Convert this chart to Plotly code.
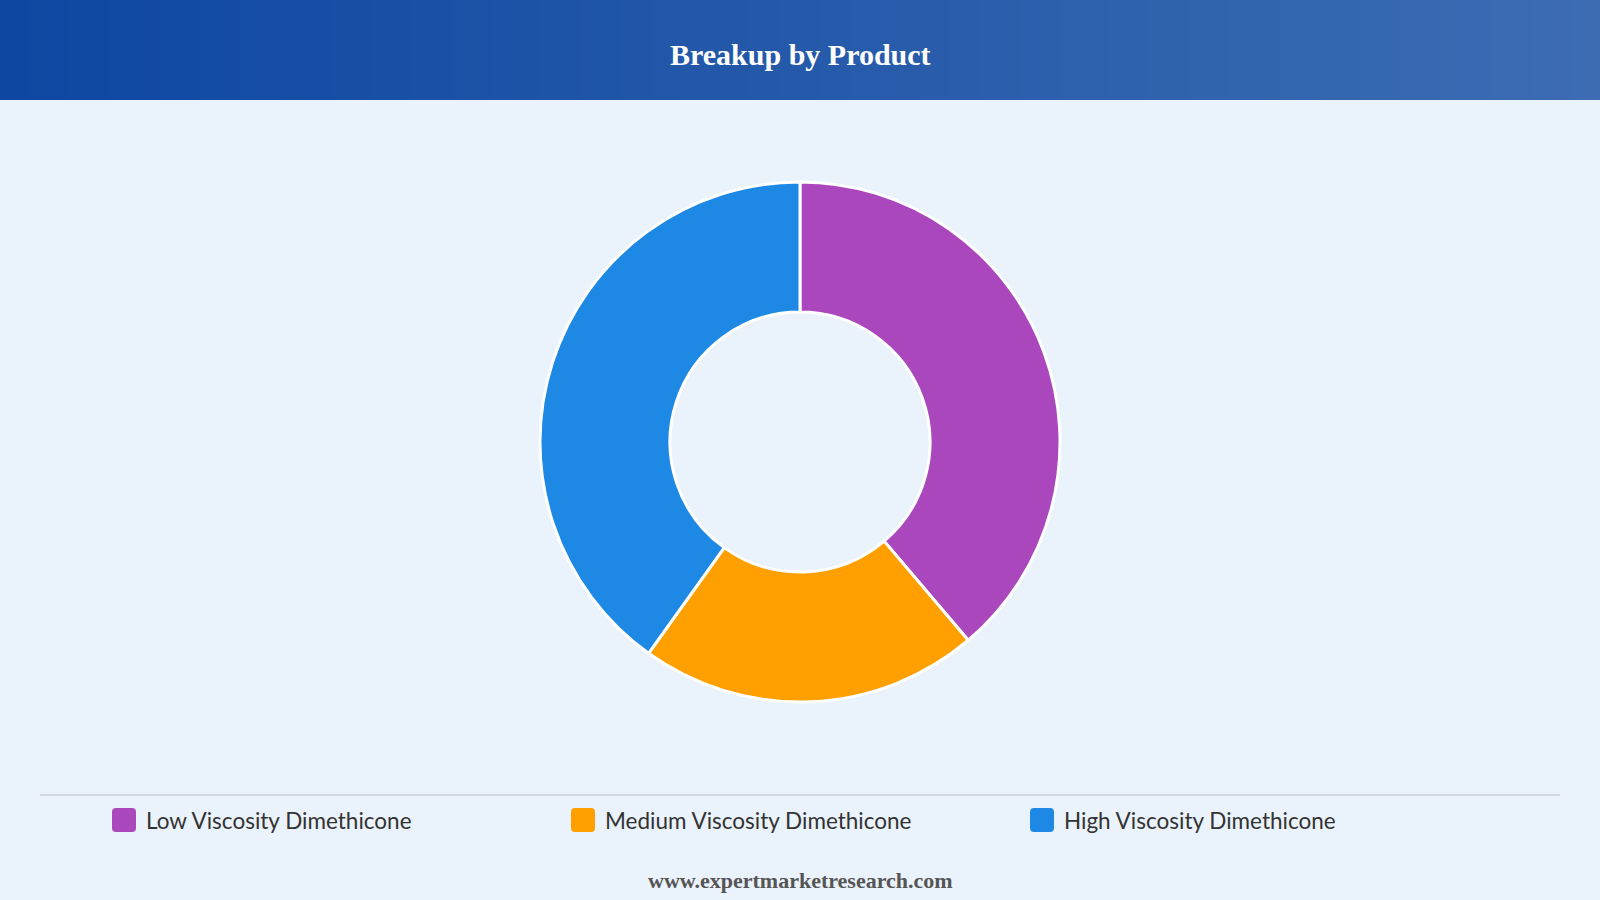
import plotly.graph_objects as go

# ---- data ----
categories = ["Low Viscosity Dimethicone", "Medium Viscosity Dimethicone", "High Viscosity Dimethicone"]
shares = [38.8, 21.1, 40.1]
colors = ["#AB47BC", "#FFA000", "#1E88E5"]
title_text = "Breakup by Product"
footer_text = "www.expertmarketresearch.com"

W, H = 1600, 900
BG = "#EAF2FB"

def px_x(x):
    return x / W

def px_y(y):
    return 1 - y / H

fig = go.Figure()
fig.add_trace(go.Pie(
    labels=categories,
    values=shares,
    hole=0.5,
    sort=False,
    direction="clockwise",
    rotation=0,
    textinfo="none",
    marker=dict(colors=colors, line=dict(color="white", width=3)),
    domain=dict(x=[px_x(540), px_x(1060)], y=[px_y(702), px_y(182)]),
    showlegend=False,
))

shapes = []
# header gradient
n = 160
c0 = (13, 71, 161)
c1 = (61, 108, 179)
for i in range(n):
    t = i / (n - 1)
    c = tuple(round(a + (b - a) * t) for a, b in zip(c0, c1))
    shapes.append(dict(type="rect", xref="paper", yref="paper",
                       x0=i / n, x1=(i + 1) / n + 0.001, y0=px_y(100), y1=1,
                       fillcolor="rgb(%d,%d,%d)" % c, line=dict(width=0), layer="below"))
# legend separator line
shapes.append(dict(type="line", xref="paper", yref="paper",
                   x0=px_x(40), x1=px_x(1560), y0=px_y(795), y1=px_y(795),
                   line=dict(color="#D3D8DE", width=2)))

annotations = [
    dict(text="<b>%s</b>" % title_text, x=0.5, y=px_y(54), xref="paper", yref="paper",
         showarrow=False, xanchor="center", yanchor="middle",
         font=dict(family="Liberation Serif, Times New Roman, serif", size=30, color="white")),
    dict(text="<b>%s</b>" % footer_text, x=0.5, y=px_y(880), xref="paper", yref="paper",
         showarrow=False, xanchor="center", yanchor="middle",
         font=dict(family="Liberation Serif, Times New Roman, serif", size=22, color="#555555")),
]

# custom legend
start_x = 112
step = 459
size = 24
r = 4
cy = 820
for i, (cat, col) in enumerate(zip(categories, colors)):
    x0 = start_x + i * step
    x1 = x0 + size
    y0 = cy - size / 2
    y1 = cy + size / 2
    def P(x, y):
        return "%f,%f" % (px_x(x), px_y(y))
    path = ("M" + P(x0 + r, y0) + " L" + P(x1 - r, y0) + " Q" + P(x1, y0) + " " + P(x1, y0 + r) +
            " L" + P(x1, y1 - r) + " Q" + P(x1, y1) + " " + P(x1 - r, y1) +
            " L" + P(x0 + r, y1) + " Q" + P(x0, y1) + " " + P(x0, y1 - r) +
            " L" + P(x0, y0 + r) + " Q" + P(x0, y0) + " " + P(x0 + r, y0) + " Z")
    shapes.append(dict(type="path", xref="paper", yref="paper", path=path,
                       fillcolor=col, line=dict(width=0)))
    annotations.append(dict(text=cat, x=px_x(x1 + 8), y=px_y(cy), xref="paper", yref="paper",
                            showarrow=False, xanchor="left", yanchor="middle",
                            font=dict(family="Lato, Noto Sans, sans-serif", size=22.5, color="#333333")))

fig.update_layout(
    width=W, height=H,
    margin=dict(l=0, r=0, t=0, b=0),
    paper_bgcolor=BG,
    plot_bgcolor=BG,
    shapes=shapes,
    annotations=annotations,
    showlegend=False,
)

fig.write_html("out.html")
